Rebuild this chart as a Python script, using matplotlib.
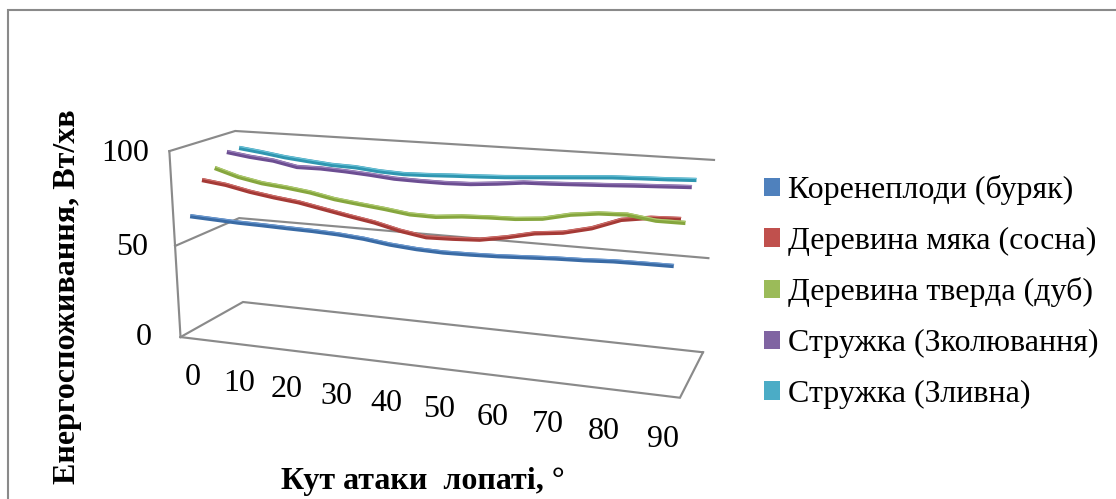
import numpy as np
import matplotlib
matplotlib.use('Agg')
import matplotlib.pyplot as plt
from matplotlib.patches import Patch, Rectangle
from mpl_toolkits.mplot3d import proj3d

plt.rcParams['font.family'] = ['Liberation Serif', 'DejaVu Serif']

# Blade attack angle, degrees
angles = list(range(0, 95, 5))
tick_angles = list(range(0, 100, 10))
tick_labels = ['0', '10', '20', '30', '40', '50', '60', '70', '80', '90']
power_ticks = [0, 50, 100]

beet = [64.9, 64.3, 63.7, 63.4, 63.0, 62.7, 62.1, 61.0, 59.2, 58.1,
        57.6, 57.8, 58.2, 58.9, 59.6, 60.0, 60.7, 60.9, 61.0]
pine = [81.5, 79.9, 77.2, 75.2, 73.6, 71.1, 68.6, 66.3, 63.1, 60.9,
        61.3, 62.0, 64.4, 67.5, 69.0, 72.3, 77.5, 79.6, 80.1]
oak = [85.5, 81.6, 79.1, 77.8, 76.1, 73.5, 71.9, 70.4, 68.6, 68.4,
       69.7, 70.3, 70.6, 71.8, 74.9, 76.6, 77.1, 75.2, 75.2]
chip_shear = [91.9, 90.1, 88.9, 86.3, 86.4, 85.8, 84.9, 83.7, 83.4, 83.3,
              83.7, 84.9, 86.4, 86.8, 87.4, 88.0, 88.7, 89.3, 89.9]
chip_flow = [91.9, 90.3, 88.4, 87.1, 85.9, 85.5, 84.2, 83.6, 84.0, 84.6,
             85.1, 85.7, 86.6, 87.5, 88.4, 89.3, 89.8, 90.2, 90.8]

series_names = ['Коренеплоди (буряк)', 'Деревина мяка (сосна)', 'Деревина тверда (дуб)',
                'Стружка (Зколювання)', 'Стружка (Зливна)']
series_values = [beet, pine, oak, chip_shear, chip_flow]
swatch_colors = ['#4F81BD', '#C0504D', '#9BBB59', '#8064A2', '#4BACC6']
ribbon_colors = ['#3A6BA5', '#A53A36', '#86A63E', '#6C4E92', '#2F96B0']
ribbon_lights = ['#6C9AD2', '#D0706C', '#B0CC70', '#9E84BE', '#6CC4DA']
GRID = '#8A8A8A'

W, H = 1116, 499
X_MIN, X_MAX = -2.08, 92.5
Z_MAX = 100

fig = plt.figure(figsize=(W / 100, H / 100), dpi=100)
fig.patch.set_facecolor('white')

# Square 3D axes that overfills the figure, so nothing is clipped by its box
ax = fig.add_axes([0, -(W - H) / 2 / H, 1, W / H], projection='3d')
ax.set_axis_off()
ax.patch.set_visible(False)
ax.set_proj_type('ortho')
ax.set_xlim(X_MIN, X_MAX)
ax.set_ylim(0, 1)
ax.set_zlim(0, Z_MAX)
ax.set_xticks([])
ax.set_yticks([])
ax.set_zticks([])

# Oblique camera: unit box (x, depth, height) to pixel coordinates with y running down
camera = np.array([[413.063, 84.822, -17.937, 180.52],
                   [10.151, -7.275, -191.995, 337.065],
                   [-0.127, 0.092, -0.04, 1.0]])
unit_box = np.array([[1 / (X_MAX - X_MIN), 0, 0, -X_MIN / (X_MAX - X_MIN)],
                     [0, 1, 0, 0],
                     [0, 0, 1 / Z_MAX, 0],
                     [0, 0, 0, 1]])
p0, p1 = ax.transData.inverted().transform([[0, 0], [W, H]])
sx, sy = (p1 - p0) / [W, H]
to_view = np.array([[sx, 0, p0[0]],
                    [0, -sy, p0[1] + sy * H],
                    [0, 0, 1]])
image = to_view @ camera @ unit_box
proj = np.vstack([image[0], image[1], [0, -1, 0, 0], image[2]])
ax.get_proj = lambda: proj


def label_at(x, depth, z, text, **kw):
    """Place a flat label at the projected position of a 3D data point."""
    px, py, _ = proj3d.proj_transform(x, depth, z, proj)
    ax.text2D(px, py, text, transform=ax.transData, fontsize=FONT, va='center',
              color='black', **kw)


# Side wall, back wall and floor outline
grid_kw = dict(color=GRID, lw=1.55, solid_joinstyle='miter', zorder=1)
ax.plot([X_MIN, X_MIN], [0, 0], [0, Z_MAX], **grid_kw)
for level in power_ticks:
    ax.plot([X_MIN, X_MIN, X_MAX], [0, 1, 1], [level, level, level], **grid_kw)
ax.plot([X_MAX, X_MAX, X_MIN], [1, 0, 0], [0, 0, 0], **grid_kw)

# One ribbon per material, each at its own depth
for k, values in enumerate(series_values):
    depth = (k + 0.5) / len(series_values)
    ax.plot(angles, [depth] * len(angles), values, color=ribbon_colors[k], lw=3.1,
            solid_capstyle='butt', solid_joinstyle='round', zorder=3 + k)
    ax.plot(angles, [depth + 0.012] * len(angles), np.array(values) + 0.55,
            color=ribbon_lights[k], lw=0.8, solid_capstyle='butt', zorder=3 + k)

FONT = 23
for a, label in zip(tick_angles, tick_labels):
    label_at(a, 0, -22, label, ha='center')
label_gaps = [-8.5, -8.0, -6.3]
for level, gap in zip(power_ticks, label_gaps):
    label_at(gap, 0, level - 2, str(level), ha='right')

fig.text(423 / W, 1 - 481 / H, 'Кут атаки  лопаті, °', fontsize=FONT, fontweight='bold',
         ha='center', va='center', color='black')
fig.text(68 / W, 1 - 297 / H, 'Енергоспоживання, Вт/хв', fontsize=FONT, fontweight='bold',
         rotation=90, ha='center', va='center', color='black')

handles = [Patch(facecolor=c, edgecolor='none', label=n) for c, n in zip(swatch_colors, series_names)]
fig.legend(handles=handles, loc='center left', bbox_to_anchor=(764 / W, 1 - 292 / H),
           frameon=False, fontsize=FONT, handlelength=0.5, handleheight=0.5,
           handletextpad=0.25, labelspacing=0.675, borderpad=0, borderaxespad=0)

# Chart border, open past the right and lower edges of the figure
fig.add_artist(Rectangle((8 / W, -0.2), 1.2, 1.2 - 10 / H, transform=fig.transFigure,
                         fill=False, edgecolor=GRID, lw=1.5))

fig.savefig('out.png', dpi=100, facecolor='white')
